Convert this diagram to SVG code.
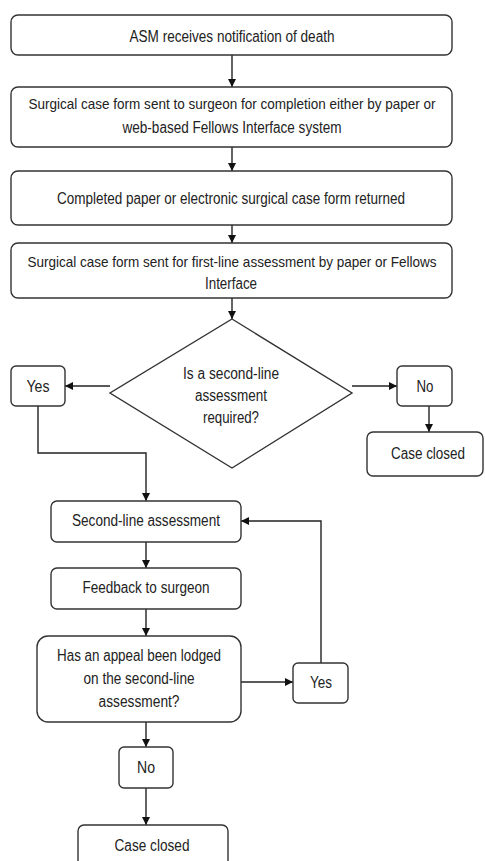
<svg xmlns="http://www.w3.org/2000/svg" width="485" height="861" viewBox="0 0 485 861">
<style>
.box{fill:#fff;stroke:#333;stroke-width:1.4}
.t{font-family:"Liberation Sans",Arial,sans-serif;font-size:16px;fill:#222;text-anchor:middle;dominant-baseline:central}
.s{font-size:14.5px}
.c{fill:none;stroke:#222;stroke-width:1.4}
</style>
<defs>
<marker id="ah" markerUnits="userSpaceOnUse" markerWidth="9" markerHeight="9" refX="8" refY="4" orient="auto">
<path d="M0,0 L8,4 L0,8 z" fill="#111"/>
</marker>
</defs>
<rect width="485" height="861" fill="#fff"/>
<g id="connectors">
<line class="c" x1="232" y1="55" x2="232" y2="87" marker-end="url(#ah)"/>
<line class="c" x1="232" y1="147" x2="232" y2="171" marker-end="url(#ah)"/>
<line class="c" x1="232" y1="225" x2="232" y2="243" marker-end="url(#ah)"/>
<line class="c" x1="232" y1="298" x2="232" y2="319" marker-end="url(#ah)"/>
<line class="c" x1="110" y1="386" x2="65" y2="386" marker-end="url(#ah)"/>
<line class="c" x1="352" y1="386" x2="397" y2="386" marker-end="url(#ah)"/>
<line class="c" x1="429" y1="406" x2="429" y2="432" marker-end="url(#ah)"/>
<polyline class="c" points="38,406 38,453 146,453 146,501" marker-end="url(#ah)"/>
<line class="c" x1="146" y1="542" x2="146" y2="568" marker-end="url(#ah)"/>
<line class="c" x1="146" y1="609" x2="146" y2="636" marker-end="url(#ah)"/>
<line class="c" x1="241" y1="682" x2="293" y2="682" marker-end="url(#ah)"/>
<polyline class="c" points="321,663 321,521 241,521" marker-end="url(#ah)"/>
<line class="c" x1="146" y1="715" x2="146" y2="747" marker-end="url(#ah)"/>
<line class="c" x1="146" y1="788" x2="146" y2="825" marker-end="url(#ah)"/>
</g>
<g id="n1"><rect class="box" x="11" y="15" width="441" height="40" rx="7"/>
<text class="t" x="232" y="36" textLength="205" lengthAdjust="spacingAndGlyphs">ASM receives notification of death</text></g>
<g id="n2"><rect class="box" x="11" y="87" width="441" height="60" rx="7"/>
<text class="t s" x="232" y="104" textLength="407" lengthAdjust="spacingAndGlyphs">Surgical case form sent to surgeon for completion either by paper or</text>
<text class="t" x="232" y="127" textLength="219" lengthAdjust="spacingAndGlyphs">web-based Fellows Interface system</text></g>
<g id="n3"><rect class="box" x="11" y="171" width="441" height="54" rx="7"/>
<text class="t" x="231" y="198" textLength="348" lengthAdjust="spacingAndGlyphs">Completed paper or electronic surgical case form returned</text></g>
<g id="n4"><rect class="box" x="11" y="243" width="441" height="55" rx="7"/>
<text class="t s" x="232" y="262" textLength="409" lengthAdjust="spacingAndGlyphs">Surgical case form sent for first-line assessment by paper or Fellows</text>
<text class="t" x="231" y="283" textLength="52" lengthAdjust="spacingAndGlyphs">Interface</text></g>
<g id="d1"><polygon class="box" points="232,319 352,393 232,468 110,393"/>
<text class="t" x="231" y="373" textLength="96" lengthAdjust="spacingAndGlyphs">Is a second-line</text>
<text class="t" x="231" y="395" textLength="72" lengthAdjust="spacingAndGlyphs">assessment</text>
<text class="t" x="231" y="417" textLength="56" lengthAdjust="spacingAndGlyphs">required?</text></g>
<g id="yes1"><rect class="box" x="11" y="366" width="54" height="40" rx="5"/>
<text class="t" x="38" y="386" textLength="23" lengthAdjust="spacingAndGlyphs">Yes</text></g>
<g id="no1"><rect class="box" x="397" y="366" width="55" height="40" rx="5"/>
<text class="t" x="425" y="386" textLength="17" lengthAdjust="spacingAndGlyphs">No</text></g>
<g id="closed1"><rect class="box" x="367" y="432" width="116" height="44" rx="6"/>
<text class="t" x="428" y="453" textLength="74" lengthAdjust="spacingAndGlyphs">Case closed</text></g>
<g id="n5"><rect class="box" x="51" y="501" width="190" height="41" rx="6"/>
<text class="t" x="146" y="520" textLength="148" lengthAdjust="spacingAndGlyphs">Second-line assessment</text></g>
<g id="n6"><rect class="box" x="51" y="568" width="190" height="41" rx="6"/>
<text class="t" x="146" y="587" textLength="127" lengthAdjust="spacingAndGlyphs">Feedback to surgeon</text></g>
<g id="n7"><rect class="box" x="37" y="636" width="204" height="86" rx="11"/>
<text class="t" x="139" y="655" textLength="164" lengthAdjust="spacingAndGlyphs">Has an appeal been lodged</text>
<text class="t" x="139" y="678" textLength="111" lengthAdjust="spacingAndGlyphs">on the second-line</text>
<text class="t" x="139" y="701" textLength="81" lengthAdjust="spacingAndGlyphs">assessment?</text></g>
<g id="yes2"><rect class="box" x="293" y="663" width="55" height="40" rx="5"/>
<text class="t" x="321" y="682" textLength="22" lengthAdjust="spacingAndGlyphs">Yes</text></g>
<g id="no2"><rect class="box" x="119" y="747" width="54" height="41" rx="5"/>
<text class="t" x="146" y="767" textLength="18" lengthAdjust="spacingAndGlyphs">No</text></g>
<g id="closed2"><rect class="box" x="78" y="825" width="150" height="45" rx="6"/>
<text class="t" x="152" y="845" textLength="75" lengthAdjust="spacingAndGlyphs">Case closed</text></g>
</svg>
